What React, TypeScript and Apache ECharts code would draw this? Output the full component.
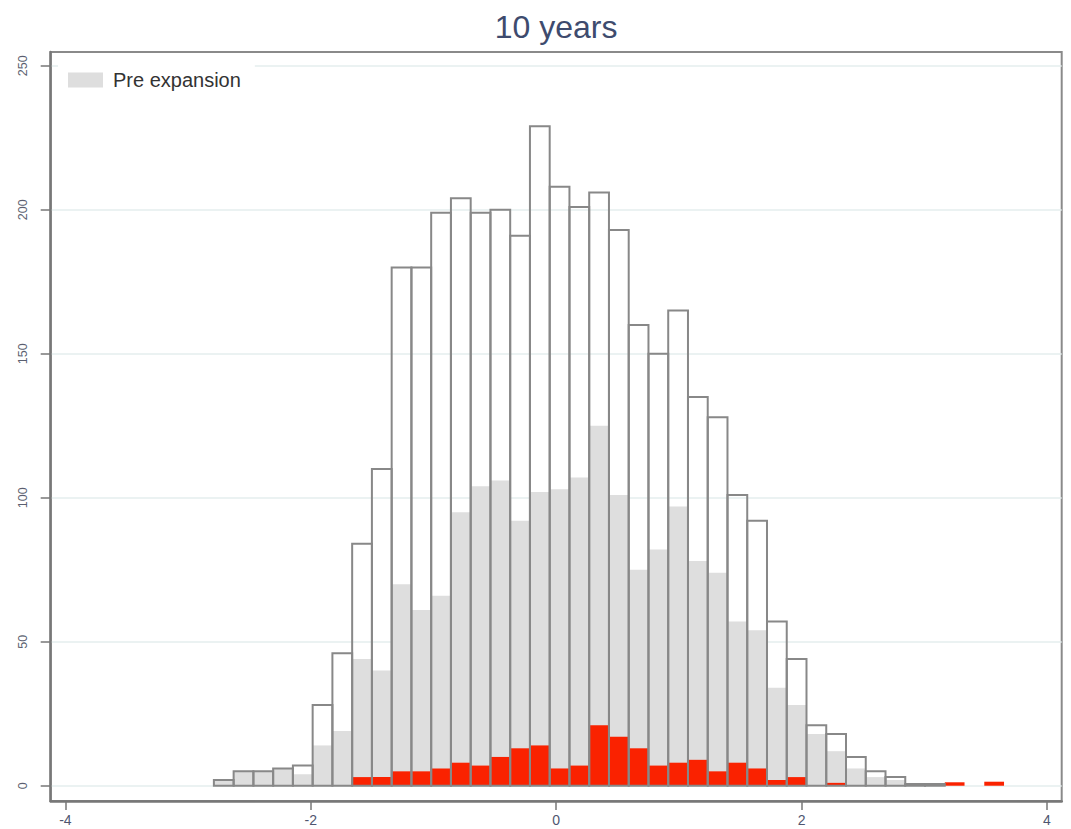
import React, { useEffect, useRef } from "react";
import * as echarts from "echarts";

const BIN_START = -2.79;
const BIN_WIDTH = 0.161;

// bin counts, left to right (bin i covers BIN_START + i*BIN_WIDTH .. +BIN_WIDTH)
const totalCounts = [
  2, 5, 5, 6, 7, 28, 46, 84, 110, 180,
  180, 199, 204, 199, 200, 191, 229, 208, 201, 206,
  193, 160, 150, 165, 135, 128, 101, 92, 57, 44,
  21, 18, 10, 5, 3, 0.6, 0.6, 0, 0, 0,
];
const preCounts = [
  2, 5, 5, 6, 4, 14, 19, 44, 40, 70,
  61, 66, 95, 104, 106, 92, 102, 103, 107, 125,
  101, 75, 82, 97, 78, 74, 57, 54, 34, 28,
  18, 12, 6, 3, 2, 0.6, 0.6, 0, 0, 0,
];
const redCounts = [
  0, 0, 0, 0, 0, 0, 0, 3, 3, 5,
  5, 6, 8, 7, 10, 13, 14, 6, 7, 21,
  17, 13, 7, 8, 9, 5, 8, 6, 2, 3,
  0, 1, 0, 0, 0, 0, 0, 1.2, 0, 1.4,
];
const xTicks = [-4, -2, 0, 2, 4];
const yTicks = [0, 50, 100, 150, 200, 250];

const FONT = "'Liberation Sans', Arial, Helvetica, sans-serif";

export default function App() {
  const ref = useRef<HTMLDivElement>(null);

  useEffect(() => {
    if (!ref.current) return;
    const chart = echarts.init(ref.current, null, { renderer: "svg" });

    const toData = (arr: number[]) =>
      arr.map((v, i) => [BIN_START + i * BIN_WIDTH, BIN_START + (i + 1) * BIN_WIDTH, v]);

    const makeRender =
      (fill: string, stroke: string | null, lineWidth: number) =>
      (_params: any, api: any) => {
        const h = api.value(2);
        if (!h) return null;
        const p0 = api.coord([api.value(0), 0]);
        const p1 = api.coord([api.value(1), h]);
        return {
          type: "rect",
          shape: {
            x: p0[0],
            y: p1[1],
            width: p1[0] - p0[0],
            height: p0[1] - p1[1],
          },
          style: {
            fill,
            stroke: stroke || "none",
            lineWidth,
          },
        };
      };

    chart.setOption({
      animation: false,
      backgroundColor: "#ffffff",
      title: {
        text: "10 years",
        left: 551,
        textAlign: "center",
        top: 6,
        textStyle: {
          fontFamily: FONT,
          fontSize: 32,
          fontWeight: "normal",
          color: "#3e4b6e",
        },
      },
      legend: {
        left: 58,
        top: 60,
        padding: [10, 14, 10, 10],
        backgroundColor: "#ffffff",
        itemWidth: 35,
        itemHeight: 15,
        itemGap: 10,
        data: [
          {
            name: "Pre expansion",
            icon: "rect",
            itemStyle: { color: "#dedede" },
          },
        ],
        textStyle: {
          fontFamily: FONT,
          fontSize: 20,
          color: "#333333",
          padding: [0, 0, 0, 5],
        },
        selectedMode: false,
      },
      grid: {
        left: 50.7,
        top: 52,
        right: 9.3,
        bottom: 28,
        show: true,
        borderColor: "#8a8a8a",
        borderWidth: 2,
        backgroundColor: "transparent",
      },
      xAxis: {
        type: "value",
        min: -4.12,
        max: 4.12,
        axisLine: { show: true, onZero: false, lineStyle: { color: "#777777", width: 2.5 } },
        axisTick: {
          show: true,
          length: 9,
          customValues: xTicks,
          lineStyle: { color: "#777777", width: 1.5 },
        },
        axisLabel: {
          customValues: xTicks,
          margin: 12,
          fontFamily: FONT,
          fontSize: 14,
          color: "#4f5670",
        },
        splitLine: { show: false },
      },
      yAxis: {
        type: "value",
        min: -5.3,
        max: 254.8,
        axisLine: { show: true, onZero: false, lineStyle: { color: "#777777", width: 2.5 } },
        axisTick: {
          show: true,
          length: 10,
          customValues: yTicks,
          lineStyle: { color: "#777777", width: 1.5 },
        },
        axisLabel: {
          customValues: yTicks,
          rotate: 90,
          margin: 21,
          fontFamily: FONT,
          fontSize: 12.5,
          color: "#5a5f70",
        },
        splitLine: {
          show: true,
          lineStyle: { color: "#e4eeee", width: 1.5 },
        },
      },
      series: [
        {
          name: "Pre expansion",
          type: "custom",
          renderItem: makeRender("#dedede", null, 0),
          encode: { x: [0, 1], y: 2 },
          itemStyle: { color: "#dedede" },
          data: toData(preCounts),
          z: 2,
        },
        {
          name: "Expansion",
          type: "custom",
          renderItem: makeRender("#fa2200", null, 0),
          encode: { x: [0, 1], y: 2 },
          itemStyle: { color: "#fa2200" },
          data: toData(redCounts),
          z: 3,
        },
        {
          name: "Total",
          type: "custom",
          renderItem: makeRender("none", "#888888", 2),
          encode: { x: [0, 1], y: 2 },
          itemStyle: { color: "#888888" },
          data: toData(totalCounts),
          z: 4,
        },
      ],
    });

    return () => chart.dispose();
  }, []);

  return (
    <div
      ref={ref}
      style={{ position: "fixed", left: 0, top: 0, width: 1071, height: 829 }}
    />
  );
}
